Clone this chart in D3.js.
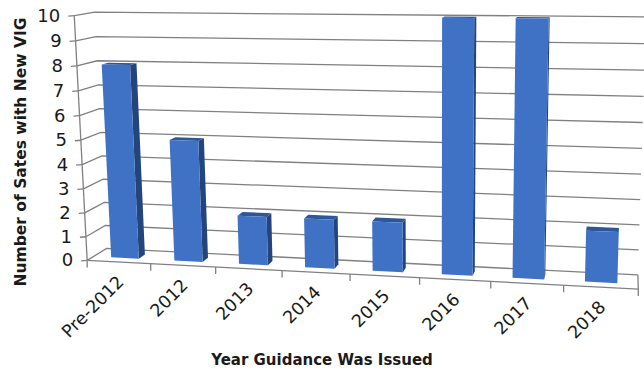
<!DOCTYPE html>
<html>
<head>
<script src="https://d3js.org/d3.v7.min.js"></script>
<style>
  body { margin: 0; background: #fff; }
  text { font-family: "DejaVu Sans", sans-serif; fill: #1a1a1a; }
</style>
</head>
<body>
<svg id="chart" width="644" height="369"></svg>
<script>
const categories = ["Pre-2012", "2012", "2013", "2014", "2015", "2016", "2017", "2018"]
const stateCounts = [8, 5, 2, 2, 2, 10, 10, 2]
const yTicks = [0, 1, 2, 3, 4, 5, 6, 7, 8, 9, 10]

// frame of the 3D box: [X, Y, Z, screenX, screenY]
// X in category steps, Y in value units, Z depth 0 front .. 1 back
const framePoints = [
  [0, 0, 0, 86, 261], [0, 5, 0, 81, 139], [0, 10, 0, 76, 15],
  [0, 0, 1, 108, 248], [0, 8, 1, 97, 61], [0, 10, 1, 93, 13],
  [2, 0, 0, 215, 267], [4, 0, 0, 351, 275], [6, 0, 0, 490, 282], [8, 0, 0, 638, 289],
  [8, 0, 1, 637, 274], [8, 10, 1, 646, 17], [8, 1, 1, 640, 250]
]

// least squares fit of a 3x4 projection (DLT), p[11] = 1
function fitCamera(pts) {
  const A = [], b = []
  pts.forEach(([X, Y, Z, u, v]) => {
    u /= 100; v /= 100
    A.push([X, Y, Z, 1, 0, 0, 0, 0, -u * X, -u * Y, -u * Z]); b.push(u)
    A.push([0, 0, 0, 0, X, Y, Z, 1, -v * X, -v * Y, -v * Z]); b.push(v)
  })
  const n = 11
  const M = d3.range(n).map(i => d3.range(n + 1).map(j =>
    j < n ? d3.sum(A, (r) => r[i] * r[j]) : d3.sum(A, (r, k) => r[i] * b[k])))
  for (let c = 0; c < n; c++) {
    let piv = c
    for (let r = c + 1; r < n; r++) if (Math.abs(M[r][c]) > Math.abs(M[piv][c])) piv = r
    ;[M[c], M[piv]] = [M[piv], M[c]]
    for (let r = 0; r < n; r++) {
      if (r === c) continue
      const f = M[r][c] / M[c][c]
      for (let k = c; k <= n; k++) M[r][k] -= f * M[c][k]
    }
  }
  return M.map((row, i) => row[n] / row[i])
}
const p = fitCamera(framePoints)
function project(X, Y, Z) {
  const w = p[8] * X + p[9] * Y + p[10] * Z + 1
  return [100 * (p[0] * X + p[1] * Y + p[2] * Z + p[3]) / w,
          100 * (p[4] * X + p[5] * Y + p[6] * Z + p[7]) / w]
}

const x = d3.scaleBand().domain(categories).range([0, categories.length])
  .paddingInner(0.56).paddingOuter(0.28)
const y = d3.scaleLinear().domain([0, 10]).range([0, 10])
const zFront = 0.33, zBack = 0.67
const xMax = categories.length

const svg = d3.select("#chart")
const line = d3.line()
const gridColor = "#808080"

// walls
const grid = svg.append("g").attr("fill", "none").attr("stroke", gridColor).attr("stroke-width", 1.3)
yTicks.forEach(t => {
  grid.append("path").attr("d", line([project(0, y(t), 0), project(0, y(t), 1), project(xMax, y(t), 1)]))
  const a = project(0, y(t), 0)
  grid.append("path").attr("d", line([[a[0] - 6, a[1] + 0.5], a]))
})
grid.append("path").attr("d", line([project(0, 0, 0), project(0, 10, 0)]))
grid.append("path").attr("d", line([project(0, 0, 0), project(xMax, 0, 0), project(xMax, 0, 1)]))
d3.range(xMax + 1).forEach(i => {
  const a = project(i, 0, 0)
  grid.append("path").attr("d", line([a, [a[0], a[1] + 7]]))
})

// y tick labels
svg.append("g").selectAll("text").data(yTicks).join("text")
  .attr("x", t => project(0, y(t), 0)[0] - 14)
  .attr("y", t => project(0, y(t), 0)[1] + 6)
  .attr("text-anchor", "end")
  .attr("font-size", 18)
  .text(t => t)

// bars
const area = pts => d3.polygonArea(pts)
const bars = svg.append("g")
categories.forEach((c, i) => {
  const x0 = x(c), x1 = x(c) + x.bandwidth(), h = y(stateCounts[i])
  const front = [[x0, 0, zFront], [x1, 0, zFront], [x1, h, zFront], [x0, h, zFront]].map(q => project(...q))
  const sign = Math.sign(area(front))
  const faces = [
    { pts: [[x1, 0, zFront], [x1, 0, zBack], [x1, h, zBack], [x1, h, zFront]], fill: "#24457c" },
    { pts: [[x0, 0, zBack], [x0, 0, zFront], [x0, h, zFront], [x0, h, zBack]], fill: "#24457c" },
    { pts: [[x0, h, zFront], [x1, h, zFront], [x1, h, zBack], [x0, h, zBack]], fill: "#2d5799" }
  ]
  faces.forEach(f => {
    const s = f.pts.map(q => project(...q))
    if (Math.sign(area(s)) === sign) {
      bars.append("polygon").attr("points", s.join(" ")).attr("fill", f.fill)
    }
  })
  bars.append("polygon").attr("points", front.join(" ")).attr("fill", "#3f72c5")
})

// x tick labels
svg.append("g").selectAll("text").data(categories).join("text")
  .attr("transform", c => {
    const a = project(x(c) + x.bandwidth() / 2, 0, 0)
    return `translate(${a[0] + 6},${a[1] + 21}) rotate(-45)`
  })
  .attr("text-anchor", "end")
  .attr("font-size", 17.5)
  .text(c => c)

// axis titles
svg.append("text")
  .attr("x", 322).attr("y", 365)
  .attr("text-anchor", "middle")
  .attr("font-size", 15).attr("font-weight", "bold")
  .text("Year Guidance Was Issued")
svg.append("text")
  .attr("transform", "translate(26,152) rotate(-90)")
  .attr("text-anchor", "middle")
  .attr("font-size", 15.5).attr("font-weight", "bold")
  .text("Number of Sates with New VIG")
</script>
</body>
</html>
